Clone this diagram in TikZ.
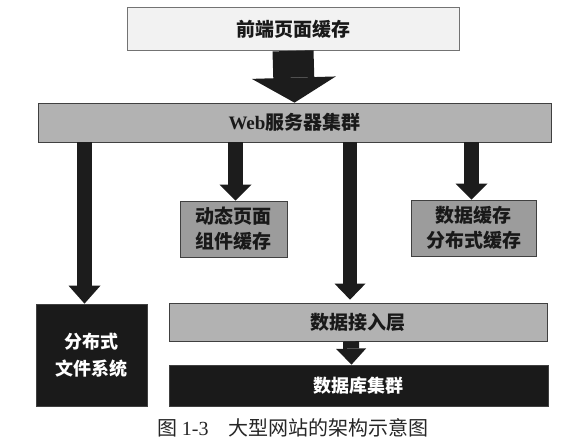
\documentclass[tikz,border=0pt]{standalone}
\usepackage{fontspec}
\newfontfamily\cjk{Noto Sans CJK SC}
\newfontfamily\lserif{Liberation Serif}
\usetikzlibrary{arrows.meta}
\definecolor{arrowc}{HTML}{1C1C1C}
\definecolor{lightbox}{HTML}{F2F2F2}
\definecolor{barc}{HTML}{B2B2B2}
\definecolor{midbox}{HTML}{9C9C9C}
\definecolor{darkbox}{HTML}{1A1A1A}
\tikzset{
  box/.style={draw=black!75, line width=0.7pt, inner sep=0pt, align=center,
    font=\cjk\bfseries\fontsize{19}{25}\selectfont},
  graybox/.style={box, fill=#1, text=black!90},
  blackbox/.style={box, fill=darkbox, text=white, font=\cjk\bfseries\fontsize{18}{27}\selectfont},
  barrow/.style n args={3}{draw=arrowc, line width=#1pt,
    -{Triangle[width=#2pt, length=#3pt, line width=0pt, fill=arrowc]}}
}
\begin{document}
\begin{tikzpicture}[x=1pt, y=-1pt]
\useasboundingbox (0,0) rectangle (561,443);
\node[graybox=lightbox, draw=black!55, minimum width=332pt, minimum height=43pt] (top) at (293,29) {前端页面缓存};
\node[graybox=barc, minimum width=513pt, minimum height=39pt] (web) at (294.5,122.5) {{\lserif\bfseries Web}服务器集群};
\node[graybox=midbox, minimum width=107pt, minimum height=56pt] (dyn) at (233.5,229) {动态页面\\组件缓存};
\node[graybox=midbox, minimum width=125pt, minimum height=56pt] (dcache) at (473.5,228) {数据缓存\\分布式缓存};
\node[blackbox, minimum width=111pt, minimum height=102pt] (fs) at (91.5,355) {分布式\\文件系统};
\node[graybox=barc, minimum width=378pt, minimum height=38pt] (dal) at (358,322) {数据接入层};
\node[blackbox, minimum width=379pt, minimum height=41pt] (db) at (358.5,385.5) {数据库集群};
\node[font=\cjk\fontsize{20}{23}\selectfont, text=black!85] (cap) at (293,428) {图 {\lserif 1-3}\hspace{1em}大型网站的架构示意图};

\draw[barrow={41}{84}{25}] (top.south) -- (web.north);
\draw[barrow={15}{32}{18}] ([xshift=-7pt]web.south -| fs.north) -- ([xshift=-7pt]fs.north);
\draw[barrow={15}{32}{16}] ([xshift=2pt]web.south -| dyn.north) -- ([xshift=2pt]dyn.north);
\draw[barrow={14}{31}{16}] ([xshift=-8pt]web.south -| dal.north) -- ([xshift=-8pt,yshift=3pt]dal.north);
\draw[barrow={15}{32}{16}] ([xshift=-2pt]web.south -| dcache.north) -- ([xshift=-2pt]dcache.north);
\draw[barrow={16}{30}{16}] ([xshift=-7pt]dal.south) -- ([xshift=-7pt]db.north);
\end{tikzpicture}
\end{document}
